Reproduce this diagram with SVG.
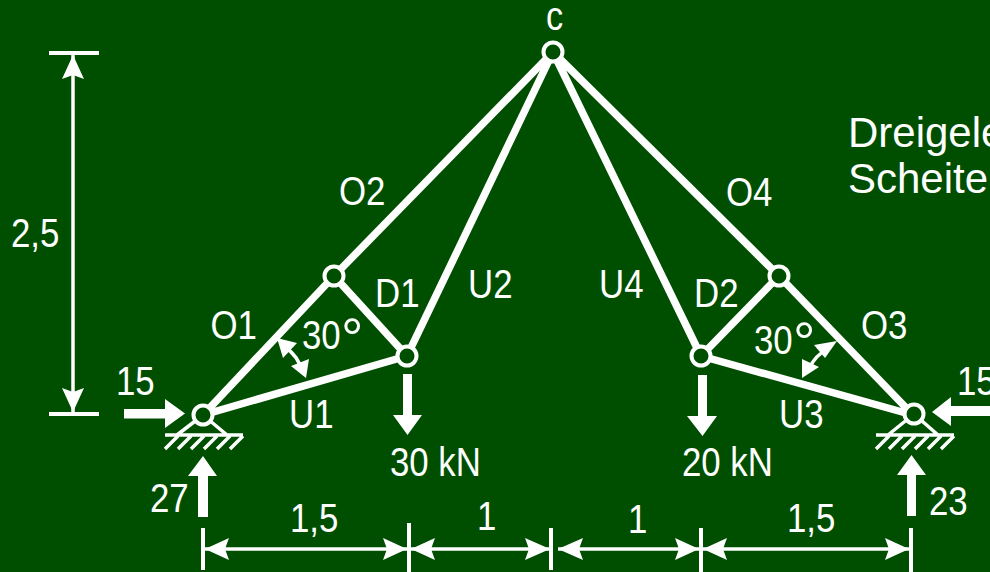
<svg xmlns="http://www.w3.org/2000/svg" width="990" height="572" viewBox="0 0 990 572">
<style>
text{font-family:"Liberation Sans",Arial,sans-serif;font-size:40px;fill:#fff}
.note{font-size:42px}
.deg{font-size:56px}
.bar{stroke:#fff;stroke-width:7.500;fill:none;stroke-linecap:round}
.thin{stroke:#fff;stroke-width:3.500;fill:none}
.tick{stroke:#fff;stroke-width:4;fill:none}
.arrow{fill:#fff;stroke:none}
.pin{fill:#004f00;stroke:#fff;stroke-width:4}
</style>
<rect width="990" height="572" fill="#004f00"/>
<g id="connectors">
<path class="bar" d="M203 415L334 276M334 276L553 52M203 415L407 356M334 276L407 356M407 356L553 52M553 52L701 356M553 52L779 276M779 276L913 415M701 356L779 276M701 356L913 415"/>
</g>
<g id="supports">
<path class="thin" d="M203 415L177 435M203 415L227 435M165 435H243M165 449L178 436M178 449L191 436M191 449L204 436M204 449L217 436M217 449L230 436M230 449L243 436"/>
<path class="thin" d="M914 414L888 435M914 414L938 435M876 435H954M876 449L889 436M889 449L902 436M902 449L915 436M915 449L928 436M928 449L941 436M941 449L954 436"/>
</g>
<g id="loads">
<path class="arrow" d="M124 409H165V399L185 413.500L165 428V418.500H124Z"/>
<path class="arrow" d="M990 406H951V397L932 412L951 426V416H990Z"/>
<path class="arrow" d="M403 374H412V415H422L407.500 435L393 415H403Z"/>
<path class="arrow" d="M698 375H707V416H717L702.500 436L687 416H698Z"/>
<path class="arrow" d="M198 517V476H188L203 456L217 476H208V517Z"/>
<path class="arrow" d="M907 516V475H897L911.500 455L926 475H916V516Z"/>
</g>
<g id="dimensions">
<path class="tick" d="M203 528V570M409 523V572M551 528V570M701 528V572M911 528V572M49 53H99M49 414H99"/>
<path class="thin" d="M205 549H407M411 549H550M558 549H699M703 549H909M73 55V412"/>
<path class="arrow" d="M205 549L229 538L225 549L229 560ZM407 549L383 538L387 549L383 560ZM411 549L435 538L431 549L435 560ZM550 549L525 538L529 549L525 560ZM558 549L583 538L579 549L583 560ZM699 549L675 538L679 549L675 560ZM703 549L727 538L723 549L727 560ZM909 549L885 538L889 549L885 560Z"/>
<path class="arrow" d="M73 55L62 79L73 75L84 79ZM73 412L62 388L73 392L84 388Z"/>
</g>
<g id="angles">
<path class="thin" d="M284 346Q300 358 301 370M828 349Q815 355 809 369"/>
<path class="arrow" d="M277 338L297 343L283 358ZM306 378L291 366L309 359ZM837 341L825 358L814 345ZM802 378L802 359L819 367Z"/>
</g>
<g id="node-a"><circle class="pin" cx="203" cy="415" r="9.500"/></g>
<g id="node-b"><circle class="pin" cx="334" cy="276" r="9.500"/></g>
<g id="node-c"><circle class="pin" cx="407" cy="356" r="9.500"/></g>
<g id="node-top"><circle class="pin" cx="553" cy="52" r="9.500"/></g>
<g id="node-d"><circle class="pin" cx="701" cy="356" r="9.500"/></g>
<g id="node-e"><circle class="pin" cx="779" cy="276" r="9.500"/></g>
<g id="node-f"><circle class="pin" cx="914" cy="414" r="9.500"/></g>
<g id="labels">
<text transform="translate(546,30) scale(.86,1)">c</text>
<text class="note" x="848" y="147">Dreigele</text>
<text class="note" x="848" y="193">Scheite</text>
<text transform="translate(339,205) scale(.87,1)">O2</text>
<text transform="translate(726,206) scale(.87,1)">O4</text>
<text transform="translate(11,247) scale(.87,1)">2,5</text>
<text transform="translate(210.500,339) scale(.87,1)">O1</text>
<text transform="translate(375,307) scale(.87,1)">D1</text>
<text transform="translate(468,298) scale(.87,1)">U2</text>
<text transform="translate(599,298) scale(.87,1)">U4</text>
<text transform="translate(694,307) scale(.87,1)">D2</text>
<text transform="translate(861,339) scale(.87,1)">O3</text>
<text transform="translate(302,349) scale(.87,1)">30</text>
<text transform="translate(754,354) scale(.87,1)">30</text>
<text class="deg" x="341" y="357">°</text>
<text class="deg" x="793" y="361">°</text>
<text transform="translate(116,395) scale(.87,1)">15</text>
<text transform="translate(957,395) scale(.87,1)">15</text>
<text transform="translate(289,428) scale(.87,1)">U1</text>
<text transform="translate(779,428) scale(.87,1)">U3</text>
<text transform="translate(390,476) scale(.87,1)">30 kN</text>
<text transform="translate(682,476) scale(.87,1)">20 kN</text>
<text transform="translate(150,512) scale(.87,1)">27</text>
<text transform="translate(929,515) scale(.87,1)">23</text>
<text transform="translate(290,532) scale(.87,1)">1,5</text>
<text transform="translate(477,530) scale(.87,1)">1</text>
<text transform="translate(628,533) scale(.87,1)">1</text>
<text transform="translate(787,532) scale(.87,1)">1,5</text>
</g>
</svg>
